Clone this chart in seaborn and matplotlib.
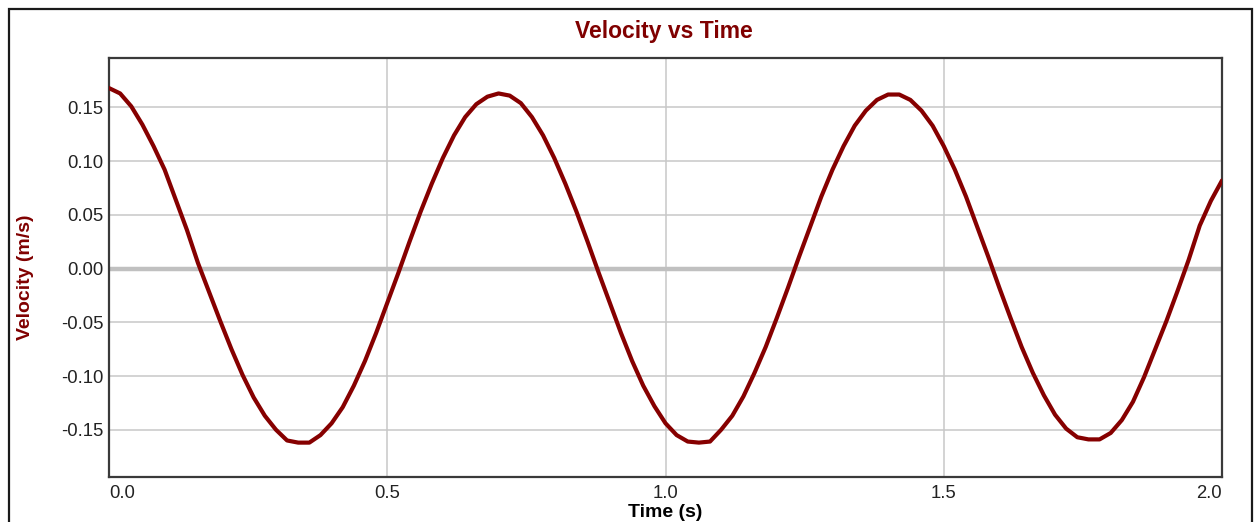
import matplotlib
matplotlib.use('Agg')
import matplotlib.pyplot as plt
import seaborn as sns
import pandas as pd
from matplotlib.patches import Rectangle

# time samples (s) and velocity (m/s)
TIME = [0.00, 0.02, 0.04, 0.06, 0.08, 0.10, 0.12, 0.14, 0.16, 0.18,
        0.20, 0.22, 0.24, 0.26, 0.28, 0.30, 0.32, 0.34, 0.36, 0.38,
        0.40, 0.42, 0.44, 0.46, 0.48, 0.50, 0.52, 0.54, 0.56, 0.58,
        0.60, 0.62, 0.64, 0.66, 0.68, 0.70, 0.72, 0.74, 0.76, 0.78,
        0.80, 0.82, 0.84, 0.86, 0.88, 0.90, 0.92, 0.94, 0.96, 0.98,
        1.00, 1.02, 1.04, 1.06, 1.08, 1.10, 1.12, 1.14, 1.16, 1.18,
        1.20, 1.22, 1.24, 1.26, 1.28, 1.30, 1.32, 1.34, 1.36, 1.38,
        1.40, 1.42, 1.44, 1.46, 1.48, 1.50, 1.52, 1.54, 1.56, 1.58,
        1.60, 1.62, 1.64, 1.66, 1.68, 1.70, 1.72, 1.74, 1.76, 1.78,
        1.80, 1.82, 1.84, 1.86, 1.88, 1.90, 1.92, 1.94, 1.96, 1.98,
        2.00]
VELOCITY = [0.168, 0.163, 0.151, 0.134, 0.114, 0.092, 0.064, 0.036, 0.005, -0.022,
            -0.049, -0.075, -0.099, -0.120, -0.137, -0.150, -0.160, -0.162, -0.162, -0.155,
            -0.144, -0.129, -0.109, -0.086, -0.060, -0.032, -0.004, 0.025, 0.053, 0.079,
            0.103, 0.124, 0.141, 0.153, 0.160, 0.163, 0.161, 0.154, 0.141, 0.124,
            0.103, 0.079, 0.053, 0.025, -0.004, -0.032, -0.060, -0.086, -0.109, -0.128,
            -0.144, -0.155, -0.161, -0.162, -0.161, -0.150, -0.137, -0.119, -0.097, -0.073,
            -0.046, -0.018, 0.011, 0.039, 0.067, 0.092, 0.114, 0.133, 0.147, 0.157,
            0.162, 0.162, 0.157, 0.147, 0.133, 0.114, 0.092, 0.067, 0.039, 0.011,
            -0.018, -0.046, -0.073, -0.097, -0.118, -0.136, -0.149, -0.157, -0.159, -0.159,
            -0.153, -0.141, -0.124, -0.101, -0.075, -0.049, -0.021, 0.008, 0.040, 0.063,
            0.082]

X_TICKS = [0.0, 0.5, 1.0, 1.5, 2.0]
Y_TICKS = [-0.15, -0.10, -0.05, 0.00, 0.05, 0.10, 0.15]

DARK_RED = '#800000'
LINE_RED = '#860000'
GRID = '#c8c8c8'
SPINE = '#3a3a3a'

sns.set_style('white')
plt.rcParams['font.family'] = ['Liberation Sans', 'DejaVu Sans']

df = pd.DataFrame({'t': TIME, 'v': VELOCITY})

fig = plt.figure(figsize=(12.55, 5.22), dpi=100)
ax = fig.add_axes([109 / 1255, 1 - 477 / 522, (1222 - 109) / 1255, (477 - 58) / 522])

# outer frame around the whole chart
fig.patches.append(Rectangle((9 / 1255, -0.05), (1252 - 9) / 1255, 1.05 - 9 / 522,
                             transform=fig.transFigure, fill=False,
                             edgecolor='#1a1a1a', linewidth=1.6))

ax.set_xlim(0, 2.0)
ax.set_ylim(-0.194, 0.196)
ax.set_xticks(X_TICKS)
ax.set_yticks(Y_TICKS)
ax.set_xticklabels([f'{v:.1f}' for v in X_TICKS])
ax.set_yticklabels([f'{v:.2f}' for v in Y_TICKS])
ax.grid(True, color=GRID, linewidth=1.1, zorder=0)
ax.axhline(0, color='#c0c0c0', linewidth=3.2, zorder=1)

sns.lineplot(data=df, x='t', y='v', color=LINE_RED, linewidth=3.0, ax=ax, zorder=3)

for s in ax.spines.values():
    s.set_color(SPINE)
    s.set_linewidth(1.6)

ax.tick_params(axis='y', direction='in', length=6, width=1.4, color=SPINE,
               labelsize=13.3, labelcolor='#222222', pad=4)
ax.tick_params(axis='x', direction='in', length=4, width=1.4, color=SPINE,
               labelsize=13.3, labelcolor='#222222', pad=6)
labels = ax.get_xticklabels()
labels[0].set_ha('left')
labels[-1].set_ha('right')

ax.set_xlabel('Time (s)', fontsize=14, fontweight='bold', color='black', labelpad=1)
ax.set_ylabel('')
fig.text(25 / 1255, 1 - 277 / 522, 'Velocity (m/s)', rotation=90, fontsize=14,
         fontweight='bold', color=DARK_RED, ha='center', va='center')
fig.text(664 / 1255, 1 - 31 / 522, 'Velocity vs Time', fontsize=16.5,
         fontweight='bold', color=DARK_RED, ha='center', va='center')

fig.savefig('out.png', dpi=100)
